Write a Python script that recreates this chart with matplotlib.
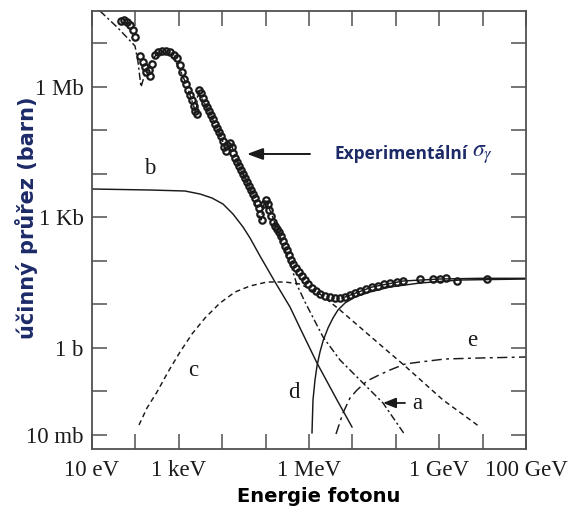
import numpy as np
import matplotlib
matplotlib.use('Agg')
import matplotlib.pyplot as plt

# ---- data: log10(E / eV) and log10(sigma / barn) ----
exp_logE = [1.668,1.737,1.806,1.876,1.945,1.991,2.106,2.175,2.221,2.244,
            2.313,2.336,2.382,2.452,2.521,2.613,2.705,2.797,2.889,2.958,
            3.028,3.074,3.120,3.166,3.212,3.258,3.304,3.350,3.373,3.419,
            3.465,3.512,3.558,3.604,3.650,3.696,3.742,3.788,3.834,3.880,
            3.926,3.972,4.018,4.041,4.088,4.111,4.180,4.226,4.249,4.295,
            4.341,4.387,4.433,4.479,4.525,4.571,4.618,4.664,4.710,4.756,
            4.802,4.848,4.871,4.917,4.963,5.009,5.055,5.078,5.124,5.171,
            5.217,5.263,5.309,5.355,5.401,5.447,5.493,5.539,5.585,5.631,
            5.700,5.770,5.839,5.908,5.977,6.069,6.161,6.253,6.369,6.484,
            6.599,6.714,6.829,6.945,7.060,7.175,7.313,7.452,7.590,7.728,
            7.866,8.028,8.166,8.558,8.857,9.018,9.157,9.410,10.101]
exp_logS = [7.517,7.540,7.494,7.425,7.310,7.149,6.713,6.575,6.460,6.345,
            6.391,6.253,6.529,6.736,6.805,6.828,6.828,6.805,6.736,6.667,
            6.506,6.345,6.184,6.069,5.931,5.816,5.701,5.563,5.448,5.379,
            5.931,5.862,5.747,5.632,5.540,5.448,5.356,5.264,5.149,5.057,
            4.966,4.874,4.759,4.621,4.529,4.667,4.713,4.621,4.483,4.368,
            4.276,4.184,4.092,4.000,3.908,3.816,3.724,3.632,3.540,3.448,
            3.333,3.218,3.080,2.943,3.310,3.402,3.310,3.172,3.034,2.897,
            2.805,2.736,2.667,2.575,2.460,2.345,2.253,2.138,2.023,1.931,
            1.839,1.747,1.655,1.563,1.471,1.379,1.310,1.241,1.195,1.172,
            1.149,1.149,1.172,1.218,1.264,1.310,1.356,1.402,1.425,1.471,
            1.494,1.517,1.540,1.586,1.586,1.586,1.609,1.540,1.586]

# a: photoelectric (dash-dot)
a_logE = [1.184,1.599,1.991,2.060,2.129,2.198,2.336,2.475,2.636,2.797,
          2.935,3.074,3.212,3.350,3.396,3.442,3.719,3.995,4.065,4.111,
          4.203,4.410,4.641,4.894,4.963,5.009,5.147,5.332,5.562,5.724,
          5.908,6.323,6.714,7.336,7.705,8.212]
a_logS = [7.747,7.356,6.943,6.575,6.000,6.230,6.552,6.736,6.828,6.759,
          6.575,6.299,5.954,5.540,5.379,5.908,5.379,4.805,4.552,4.667,
          4.690,4.138,3.655,2.943,3.310,3.379,3.057,2.552,1.977,1.448,
          1.057,0.253,-0.276,-0.897,-1.264,-2.000]

# b: coherent (Rayleigh)
b_logE = [1.0,2.336,3.143,3.488,3.765,4.018,4.249,4.479,4.641,4.871,
          5.217,5.562,5.793,6.184,6.645,6.991]
b_logS = [3.655,3.632,3.609,3.540,3.448,3.310,3.080,2.782,2.529,2.115,
          1.517,0.943,0.460,-0.345,-1.195,-1.816]

# c: incoherent (Compton)
c_logE = [2.083,2.267,2.498,2.751,3.028,3.304,3.604,3.949,4.295,4.641,
          5.032,5.447,5.793,6.253,6.714,7.567,8.212,9.088,9.940]
c_logS = [-1.770,-1.379,-1.011,-0.552,-0.092,0.322,0.690,1.034,1.287,1.425,
          1.517,1.517,1.471,1.241,0.874,0.138,-0.414,-1.195,-1.816]

# d: pair production, nuclear field
d_logE = [6.069,6.092,6.138,6.184,6.253,6.323,6.438,6.553,6.668,6.829,
          7.060,7.406,7.866,8.558,9.479,11.0]
d_logS = [-1.950,-1.195,-0.736,-0.414,-0.092,0.161,0.460,0.690,0.874,1.034,
          1.172,1.287,1.402,1.494,1.563,1.586]

# e: pair production, electron field
e_logE = [6.622,6.783,6.945,7.106,7.336,7.567,7.866,8.212,8.558,9.134,9.940,11.0]
e_logS = [-1.977,-1.494,-1.149,-0.966,-0.759,-0.644,-0.506,-0.368,-0.322,-0.253,-0.230,-0.207]

# total (theory) at high energies
tot_logE = [6.829,7.452,8.166,9.018,9.940,11.0]
tot_logS = [1.172,1.402,1.540,1.586,1.602,1.602]

xtick_logE = [1,2,3,4,5,6,7,8,9,10,11]
xtick_labels = ['10 eV','','1 keV','','','1 MeV','','','1 GeV','','100 GeV']
ytick_logS = [-2,-1,0,1,2,3,4,5,6,7]
ytick_labels = ['10 mb','','1 b','','','1 Kb','','','1 Mb','']

# curve labels: (text, logE, logS)
curve_labels = [('b',2.336,4.115),('c',3.327,-0.506),('d',5.654,-1.034),
                ('a',8.488,-1.287),('e',9.756,0.161)]

p = lambda v: 10.0 ** np.asarray(v, dtype=float)

navy = '#1c2b68'
ink = '#1a1a1a'
serif = ['Liberation Serif', 'DejaVu Serif']

fig = plt.figure(figsize=(5.79, 5.17), dpi=100)
ax = fig.add_axes([92/579, 1-449/517, 434/579, (449-10.7)/517])
ax.set_xscale('log')
ax.set_yscale('log')
ax.set_xlim(p(1.0), p(11.0))
ax.set_ylim(p(-2.322), p(7.754))

lw = 1.05
ax.plot(p(b_logE), p(b_logS), color=ink, lw=lw)
ax.plot(p(d_logE), p(d_logS), color=ink, lw=lw)
ax.plot(p(tot_logE), p(tot_logS), color=ink, lw=lw)
ax.plot(p(c_logE), p(c_logS), color=ink, lw=lw, ls=(0, (3.5, 2.5)))
ax.plot(p(a_logE), p(a_logS), color=ink, lw=lw, ls=(0, (5, 2, 1.5, 2)))
ax.plot(p(e_logE), p(e_logS), color=ink, lw=lw, ls=(0, (7, 3, 2, 3)))
ax.plot(p(exp_logE), p(exp_logS), ls='none', marker='o', ms=4.6,
        mfc='none', mec=ink, mew=1.6)

for s in ax.spines.values():
    s.set_color('#505050')
    s.set_linewidth(1.3)

ax.xaxis.set_major_locator(matplotlib.ticker.FixedLocator(p(xtick_logE)))
ax.xaxis.set_major_formatter(matplotlib.ticker.FixedFormatter(xtick_labels))
ax.yaxis.set_major_locator(matplotlib.ticker.FixedLocator(p(ytick_logS)))
ax.yaxis.set_major_formatter(matplotlib.ticker.FixedFormatter(ytick_labels))
ax.xaxis.set_minor_locator(matplotlib.ticker.NullLocator())
ax.yaxis.set_minor_locator(matplotlib.ticker.NullLocator())
ax.tick_params(which='major', direction='in', length=10.5, width=1.1,
               color='#505050', top=True, right=True,
               labelsize=16.5, labelcolor=ink)
ax.tick_params(axis='x', pad=8)
ax.tick_params(axis='y', pad=6)
for lab in ax.get_xticklabels() + ax.get_yticklabels():
    lab.set_family(serif)

for txt, lx, ly in curve_labels:
    ax.text(p(lx), p(ly), txt, family=serif, fontsize=16.5, color=ink,
            ha='center', va='center')

# arrow pointing to curve a
ax.annotate('', xy=(p(7.705), p(-1.264)), xytext=(p(8.212), p(-1.264)),
            arrowprops=dict(arrowstyle='-|>,head_length=0.55,head_width=0.22',
                            color=ink, lw=1.3, shrinkA=0, shrinkB=0,
                            mutation_scale=14))

# experimental annotation
ax.annotate('', xy=(p(4.571), p(4.460)), xytext=(p(6.023), p(4.460)),
            arrowprops=dict(arrowstyle='-|>,head_length=0.6,head_width=0.22',
                            color=ink, lw=1.4, shrinkA=0, shrinkB=0,
                            mutation_scale=16))
t1 = ax.text(p(6.599), p(4.460), 'Experimentální', family=['Open Sans', 'DejaVu Sans'],
             fontweight='bold', fontsize=12.5, color=navy, ha='left', va='center')
ax.annotate(r'$\sigma_\gamma$', xy=(1, 0.5), xycoords=t1, xytext=(3, 0),
            textcoords='offset points', ha='left', va='center',
            fontsize=17, color=navy, math_fontfamily='stix')

fig.text(319/579, 1-497/517, 'Energie fotonu', fontsize=14, fontweight='bold',
         color='black', ha='center', va='center', family='DejaVu Sans')
fig.text(27/579, 1-218/517, 'účinný průřez (barn)', fontsize=15, fontweight='bold',
         color=navy, ha='center', va='center', rotation=90, family='DejaVu Sans')

fig.savefig('out.png', dpi=100)
